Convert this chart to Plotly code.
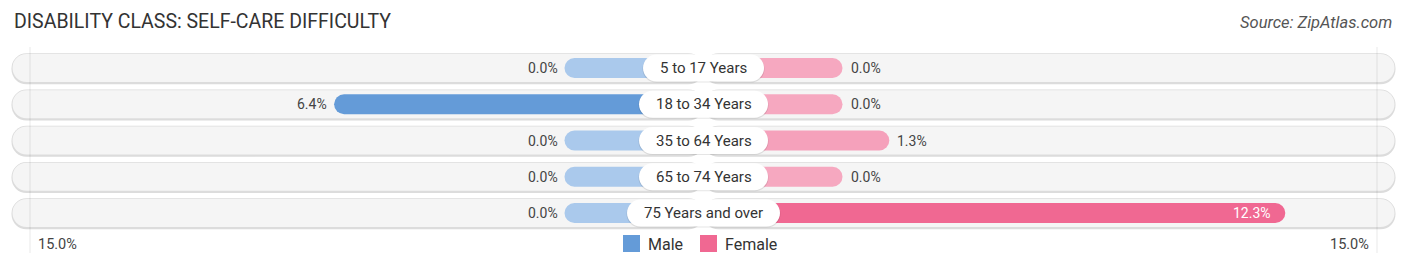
import plotly.graph_objects as go

# ---------------- data ----------------
categories = ["5 to 17 Years", "18 to 34 Years", "35 to 64 Years",
              "65 to 74 Years", "75 Years and over"]
male = [0.0, 6.4, 0.0, 0.0, 0.0]
female = [0.0, 0.0, 1.3, 0.0, 12.3]
axis_label_left = "15.0%"
axis_label_right = "15.0%"
title_text = "DISABILITY CLASS: SELF-CARE DIFFICULTY"
source_text = "Source: ZipAtlas.com"
legend_names = ["Male", "Female"]

# ---------------- layout constants ----------------
W, H = 1406, 269
PX = 36.0            # pixels per percent
CENTER = 703.5       # pixel x of zero
STUB = 139.0 / PX    # minimum bar length (under label)
ROW0, ROWSTEP = 68.0, 36.25
PILL_HALF = 691.0 / PX
GRID_HALF = 673.5 / PX
FONT = "Roboto"

MALE_DARK, MALE_LIGHT = (100, 155, 216), (170, 201, 236)
FEM_DARK, FEM_LIGHT = (240, 104, 146), (246, 168, 192)


def lerp(c1, c2, t):
    return "rgb(%d,%d,%d)" % tuple(round(a + (b - a) * t) for a, b in zip(c1, c2))


def pill_path(w, h, dy=0.0):
    k = 0.5523 * h
    r = h
    pts = (f"M {-w + r},{-h + dy} L {w - r},{-h + dy} "
           f"C {w - r + k},{-h + dy} {w},{-k + dy} {w},{dy} "
           f"C {w},{k + dy} {w - r + k},{h + dy} {w - r},{h + dy} "
           f"L {-w + r},{h + dy} "
           f"C {-w + r - k},{h + dy} {-w},{k + dy} {-w},{dy} "
           f"C {-w},{-k + dy} {-w + r - k},{-h + dy} {-w + r},{-h + dy} Z")
    return pts


n = len(categories)
ys = list(range(n))
mmax = max(male) or 1
fmax = max(female) or 1
male_colors = [lerp(MALE_LIGHT, MALE_DARK, v / mmax) for v in male]
fem_colors = [lerp(FEM_LIGHT, FEM_DARK, v / fmax) for v in female]

fig = go.Figure()

# shadow behind pills
sh_w = 31 / ROWSTEP
for sgn in (-1, 1):
    fig.add_trace(go.Bar(
        y=ys, x=[sgn * (PILL_HALF + 1 / PX)] * n, base=0, orientation="h",
        width=sh_w, offset=-sh_w / 2 + 0.8 / ROWSTEP,
        marker=dict(color="#dcdcdc", line=dict(width=0), cornerradius=15),
        hoverinfo="skip", showlegend=False))
# pill backgrounds
pw = 28 / ROWSTEP
for sgn in (-1, 1):
    fig.add_trace(go.Bar(
        y=ys, x=[sgn * PILL_HALF] * n, base=0, orientation="h", width=pw,
        marker=dict(color="#f5f5f5", line=dict(width=0), cornerradius=14),
        hoverinfo="skip", showlegend=False))

# data bars
bw = 20 / ROWSTEP
fig.add_trace(go.Bar(
    y=ys, x=[-(STUB + v) for v in male], base=0, orientation="h", width=bw,
    marker=dict(color=male_colors, line=dict(width=0), cornerradius=10),
    name=legend_names[0], hoverinfo="skip", showlegend=False))
fig.add_trace(go.Bar(
    y=ys, x=[(STUB + v) for v in female], base=0, orientation="h", width=bw,
    marker=dict(color=fem_colors, line=dict(width=0), cornerradius=10),
    name=legend_names[1], hoverinfo="skip", showlegend=False))

shapes = []
annotations = []
# label pills (pixel-sized shapes anchored at each category row)
for i, c in enumerate(categories):
    hw = (8.0 * len(c) + 17) / 2
    shapes.append(dict(type="path", xref="x", yref="y", xsizemode="pixel", ysizemode="pixel",
                       xanchor=0, yanchor=i, path=pill_path(hw + 0.5, 13.5, dy=-1.0),
                       fillcolor="rgba(0,0,0,0.10)", line=dict(width=0), layer="above"))
    shapes.append(dict(type="path", xref="x", yref="y", xsizemode="pixel", ysizemode="pixel",
                       xanchor=0, yanchor=i, path=pill_path(hw, 13.5),
                       fillcolor="white", line=dict(width=0), layer="above"))
    annotations.append(dict(x=0, y=i, xref="x", yref="y", text=c, showarrow=False,
                            font=dict(family=FONT, size=15, color="#333333"),
                            xanchor="center", yanchor="middle"))
# value labels
for i, v in enumerate(male):
    annotations.append(dict(x=-(STUB + v), y=i, xref="x", yref="y", text=f"{v:.1f}%",
                            showarrow=False, xanchor="right", yanchor="middle", xshift=-5,
                            font=dict(family=FONT, size=14, color="#444444")))
for i, v in enumerate(female):
    inside = v > 10
    annotations.append(dict(x=(STUB + v), y=i, xref="x", yref="y", text=f"{v:.1f}%",
                            showarrow=False, xanchor="right" if inside else "left",
                            yanchor="middle", xshift=-12 if inside else 6,
                            font=dict(family=FONT, size=14,
                                      color="white" if inside else "#444444")))

# title & source
annotations.append(dict(x=12 / W, y=1 - 21 / H, xref="paper", yref="paper", text=title_text,
                        showarrow=False, xanchor="left", yanchor="middle",
                        font=dict(family=FONT, size=19.5, color="#333333")))
annotations.append(dict(x=1394 / W, y=1 - 23 / H, xref="paper", yref="paper",
                        text="<i>" + source_text + "</i>",
                        showarrow=False, xanchor="right", yanchor="middle",
                        font=dict(family=FONT, size=16.5, color="#555555")))
# axis end labels
annotations.append(dict(x=-GRID_HALF, y=1 - 244 / H, xref="x", yref="paper", text=axis_label_left,
                        showarrow=False, xanchor="left", yanchor="middle", xshift=6,
                        font=dict(family=FONT, size=14.5, color="#444444")))
annotations.append(dict(x=GRID_HALF, y=1 - 244 / H, xref="x", yref="paper", text=axis_label_right,
                        showarrow=False, xanchor="right", yanchor="middle", xshift=-6,
                        font=dict(family=FONT, size=14.5, color="#444444")))
# legend
leg = [(623, MALE_DARK, legend_names[0]), (700, FEM_DARK, legend_names[1])]
for x0, col, name in leg:
    shapes.append(dict(type="rect", xref="paper", yref="paper",
                       x0=x0 / W, x1=(x0 + 17) / W, y0=1 - 252 / H, y1=1 - 235 / H,
                       fillcolor="rgb(%d,%d,%d)" % col, line=dict(width=0), layer="above"))
    annotations.append(dict(x=(x0 + 23) / W, y=1 - 244 / H, xref="paper", yref="paper",
                            text=name, showarrow=False, xanchor="left", yanchor="middle",
                            font=dict(family=FONT, size=16, color="#333333")))
# grid lines
for sgn in (-1, 1):
    shapes.append(dict(type="line", xref="x", yref="paper", x0=sgn * GRID_HALF, x1=sgn * GRID_HALF,
                       y0=1 - 253 / H, y1=1 - 47 / H, line=dict(color="rgba(0,0,0,0.09)", width=1),
                       layer="above"))

fig.update_layout(
    width=W, height=H, margin=dict(l=0, r=0, t=0, b=0),
    paper_bgcolor="white", plot_bgcolor="white",
    barmode="overlay", showlegend=False,
    xaxis=dict(range=[-CENTER / PX, (W - CENTER) / PX], visible=False, fixedrange=True),
    yaxis=dict(range=[(H - ROW0) / ROWSTEP, -ROW0 / ROWSTEP], visible=False, fixedrange=True),
    annotations=annotations, shapes=shapes,
)

fig.write_html("out.html")
